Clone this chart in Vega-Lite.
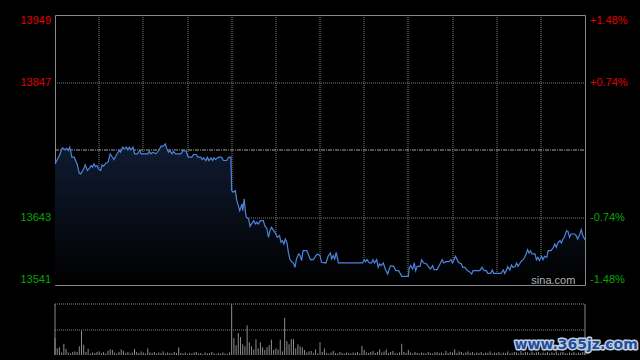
{
"$schema": "https://vega.github.io/schema/vega-lite/v6.json",
"background": "#000000",
"padding": {"left": 19, "top": 14, "right": 5, "bottom": 5},
"spacing": 16,
"config": {
 "axis": {"labelFont": "Liberation Sans", "labelFontSize": 11, "title": null, "translate": 0},
 "axisX": {"grid": true, "gridColor": "#808080", "gridDash": [1, 1], "labels": false, "ticks": false, "domain": false, "title": null}
},
"datasets": {
"price": [
{"t":0,"p":13724.0},{"t":6,"p":13736.6},{"t":10,"p":13748.2},{"t":14,"p":13745.2},{"t":16,"p":13747.7},{"t":18,"p":13744.2},{"t":20,"p":13749.3},{"t":23,"p":13734.1},{"t":26,"p":13734.1},{"t":30,"p":13724.0},{"t":33,"p":13709.9},{"t":35,"p":13708.9},{"t":39,"p":13716.5},{"t":41,"p":13722.5},{"t":44,"p":13714.0},{"t":47,"p":13717.5},{"t":49,"p":13721.5},{"t":51,"p":13719.0},{"t":53,"p":13724.0},{"t":55,"p":13720.0},{"t":57,"p":13721.5},{"t":59,"p":13716.5},{"t":62,"p":13714.0},{"t":64,"p":13722.5},{"t":66,"p":13720.5},{"t":69,"p":13725.0},{"t":72,"p":13726.6},{"t":75,"p":13739.2},{"t":78,"p":13734.1},{"t":80,"p":13730.6},{"t":83,"p":13736.6},{"t":87,"p":13744.2},{"t":89,"p":13741.7},{"t":92,"p":13749.3},{"t":94,"p":13746.7},{"t":97,"p":13749.3},{"t":99,"p":13745.2},{"t":101,"p":13749.3},{"t":103,"p":13745.2},{"t":106,"p":13749.3},{"t":108,"p":13739.2},{"t":112,"p":13739.2},{"t":115,"p":13744.2},{"t":117,"p":13739.2},{"t":126,"p":13739.2},{"t":128,"p":13743.2},{"t":130,"p":13739.2},{"t":133,"p":13741.7},{"t":137,"p":13739.2},{"t":141,"p":13744.2},{"t":144,"p":13750.8},{"t":147,"p":13750.8},{"t":150,"p":13754.3},{"t":152,"p":13746.7},{"t":154,"p":13741.7},{"t":156,"p":13744.2},{"t":159,"p":13739.2},{"t":161,"p":13742.7},{"t":164,"p":13739.2},{"t":171,"p":13739.2},{"t":174,"p":13744.2},{"t":178,"p":13743.2},{"t":181,"p":13734.1},{"t":186,"p":13734.1},{"t":188,"p":13738.2},{"t":192,"p":13738.2},{"t":194,"p":13734.1},{"t":198,"p":13734.1},{"t":200,"p":13730.6},{"t":202,"p":13733.1},{"t":205,"p":13729.1},{"t":207,"p":13734.1},{"t":209,"p":13729.1},{"t":212,"p":13733.1},{"t":214,"p":13729.1},{"t":216,"p":13733.1},{"t":218,"p":13730.6},{"t":221,"p":13733.1},{"t":223,"p":13734.1},{"t":226,"p":13734.1},{"t":229,"p":13729.1},{"t":233,"p":13729.1},{"t":236,"p":13734.1},{"t":239,"p":13734.1},{"t":240,"p":13683.7},{"t":242,"p":13681.2},{"t":245,"p":13683.7},{"t":247,"p":13668.6},{"t":249,"p":13661.0},{"t":251,"p":13653.4},{"t":254,"p":13663.5},{"t":255,"p":13653.4},{"t":257,"p":13671.1},{"t":259,"p":13648.4},{"t":260,"p":13643.4},{"t":263,"p":13640.8},{"t":265,"p":13629.7},{"t":267,"p":13633.3},{"t":270,"p":13638.3},{"t":272,"p":13633.3},{"t":274,"p":13635.8},{"t":276,"p":13633.3},{"t":279,"p":13638.3},{"t":283,"p":13638.3},{"t":285,"p":13630.7},{"t":288,"p":13625.7},{"t":290,"p":13613.1},{"t":292,"p":13623.2},{"t":294,"p":13628.2},{"t":298,"p":13621.7},{"t":300,"p":13618.1},{"t":302,"p":13613.1},{"t":305,"p":13615.6},{"t":307,"p":13605.5},{"t":309,"p":13608.0},{"t":311,"p":13603.0},{"t":313,"p":13610.6},{"t":315,"p":13605.5},{"t":317,"p":13590.4},{"t":319,"p":13580.3},{"t":322,"p":13575.3},{"t":324,"p":13574.3},{"t":326,"p":13567.7},{"t":328,"p":13580.3},{"t":331,"p":13587.9},{"t":333,"p":13585.4},{"t":335,"p":13577.8},{"t":337,"p":13592.9},{"t":342,"p":13592.9},{"t":344,"p":13587.9},{"t":347,"p":13579.3},{"t":351,"p":13579.3},{"t":353,"p":13582.8},{"t":356,"p":13587.9},{"t":360,"p":13585.4},{"t":362,"p":13575.3},{"t":368,"p":13574.3},{"t":371,"p":13584.4},{"t":374,"p":13589.4},{"t":376,"p":13580.3},{"t":378,"p":13585.4},{"t":380,"p":13580.3},{"t":382,"p":13590.4},{"t":385,"p":13574.3},{"t":418,"p":13574.3},{"t":420,"p":13579.3},{"t":422,"p":13576.3},{"t":424,"p":13579.3},{"t":427,"p":13574.3},{"t":430,"p":13574.3},{"t":432,"p":13579.3},{"t":434,"p":13574.3},{"t":437,"p":13579.3},{"t":439,"p":13567.7},{"t":441,"p":13572.8},{"t":443,"p":13570.3},{"t":446,"p":13574.3},{"t":449,"p":13564.2},{"t":452,"p":13557.6},{"t":454,"p":13565.2},{"t":456,"p":13570.3},{"t":460,"p":13569.2},{"t":463,"p":13562.7},{"t":467,"p":13562.7},{"t":471,"p":13554.1},{"t":480,"p":13554.1},{"t":481,"p":13565.2},{"t":483,"p":13570.3},{"t":486,"p":13565.2},{"t":488,"p":13574.3},{"t":490,"p":13562.7},{"t":492,"p":13569.2},{"t":496,"p":13569.2},{"t":498,"p":13579.3},{"t":501,"p":13574.3},{"t":505,"p":13572.8},{"t":508,"p":13567.7},{"t":510,"p":13565.2},{"t":513,"p":13570.3},{"t":515,"p":13564.2},{"t":519,"p":13564.2},{"t":523,"p":13572.8},{"t":526,"p":13579.3},{"t":528,"p":13574.3},{"t":531,"p":13576.3},{"t":535,"p":13576.3},{"t":538,"p":13579.3},{"t":540,"p":13574.3},{"t":542,"p":13579.3},{"t":544,"p":13584.4},{"t":548,"p":13575.3},{"t":552,"p":13572.8},{"t":554,"p":13567.7},{"t":557,"p":13567.7},{"t":560,"p":13562.7},{"t":563,"p":13561.2},{"t":566,"p":13557.6},{"t":568,"p":13562.7},{"t":577,"p":13562.7},{"t":580,"p":13567.7},{"t":583,"p":13562.7},{"t":586,"p":13562.7},{"t":588,"p":13558.6},{"t":592,"p":13558.6},{"t":594,"p":13563.7},{"t":596,"p":13558.6},{"t":606,"p":13558.6},{"t":609,"p":13563.7},{"t":611,"p":13558.6},{"t":613,"p":13562.7},{"t":615,"p":13568.7},{"t":618,"p":13563.7},{"t":620,"p":13571.2},{"t":622,"p":13567.7},{"t":625,"p":13568.7},{"t":627,"p":13574.3},{"t":629,"p":13569.2},{"t":631,"p":13572.8},{"t":634,"p":13577.8},{"t":636,"p":13579.3},{"t":638,"p":13582.8},{"t":640,"p":13587.9},{"t":642,"p":13594.4},{"t":644,"p":13589.4},{"t":646,"p":13592.9},{"t":648,"p":13587.9},{"t":652,"p":13587.9},{"t":654,"p":13579.3},{"t":656,"p":13582.8},{"t":658,"p":13577.8},{"t":661,"p":13584.4},{"t":663,"p":13579.3},{"t":665,"p":13584.4},{"t":668,"p":13582.8},{"t":670,"p":13592.9},{"t":674,"p":13592.9},{"t":677,"p":13598.0},{"t":679,"p":13603.0},{"t":681,"p":13598.0},{"t":683,"p":13604.5},{"t":686,"p":13608.1},{"t":688,"p":13604.5},{"t":690,"p":13610.6},{"t":692,"p":13613.1},{"t":695,"p":13623.2},{"t":697,"p":13621.7},{"t":699,"p":13613.1},{"t":701,"p":13618.1},{"t":706,"p":13618.1},{"t":708,"p":13615.6},{"t":710,"p":13610.6},{"t":713,"p":13618.1},{"t":715,"p":13624.7},{"t":717,"p":13615.6},{"t":720,"p":13609.6}
],
"vol": [
{"t":0,"v":33},{"t":3,"v":13},{"t":6,"v":15},{"t":9,"v":5},{"t":12,"v":22},{"t":15,"v":12},{"t":18,"v":5},{"t":21,"v":3},{"t":24,"v":6},{"t":27,"v":7},{"t":30,"v":6},{"t":33,"v":17},{"t":36,"v":47},{"t":39,"v":20},{"t":42,"v":6},{"t":45,"v":12},{"t":48,"v":3},{"t":51,"v":5},{"t":54,"v":4},{"t":57,"v":6},{"t":60,"v":7},{"t":63,"v":4},{"t":66,"v":6},{"t":69,"v":3},{"t":72,"v":8},{"t":75,"v":11},{"t":78,"v":10},{"t":81,"v":5},{"t":84,"v":3},{"t":87,"v":6},{"t":90,"v":11},{"t":93,"v":8},{"t":96,"v":4},{"t":99,"v":6},{"t":102,"v":3},{"t":105,"v":5},{"t":108,"v":12},{"t":111,"v":6},{"t":114,"v":4},{"t":117,"v":7},{"t":120,"v":5},{"t":123,"v":3},{"t":126,"v":13},{"t":129,"v":5},{"t":132,"v":4},{"t":135,"v":6},{"t":138,"v":3},{"t":141,"v":5},{"t":144,"v":4},{"t":147,"v":7},{"t":150,"v":3},{"t":153,"v":5},{"t":156,"v":4},{"t":159,"v":3},{"t":162,"v":6},{"t":165,"v":4},{"t":168,"v":15},{"t":171,"v":4},{"t":174,"v":3},{"t":177,"v":5},{"t":180,"v":2},{"t":183,"v":4},{"t":186,"v":3},{"t":189,"v":5},{"t":192,"v":6},{"t":195,"v":3},{"t":198,"v":4},{"t":201,"v":2},{"t":204,"v":5},{"t":207,"v":3},{"t":210,"v":4},{"t":213,"v":6},{"t":216,"v":3},{"t":219,"v":2},{"t":222,"v":4},{"t":225,"v":3},{"t":228,"v":5},{"t":231,"v":3},{"t":234,"v":2},{"t":237,"v":5},{"t":240,"v":100},{"t":243,"v":33},{"t":246,"v":19},{"t":249,"v":43},{"t":252,"v":35},{"t":255,"v":21},{"t":258,"v":17},{"t":261,"v":58},{"t":264,"v":25},{"t":267,"v":17},{"t":270,"v":11},{"t":273,"v":31},{"t":276,"v":13},{"t":279,"v":25},{"t":282,"v":15},{"t":285,"v":10},{"t":288,"v":15},{"t":291,"v":19},{"t":294,"v":30},{"t":297,"v":10},{"t":300,"v":13},{"t":303,"v":11},{"t":306,"v":30},{"t":309,"v":7},{"t":312,"v":73},{"t":315,"v":27},{"t":318,"v":21},{"t":321,"v":31},{"t":324,"v":31},{"t":327,"v":13},{"t":330,"v":21},{"t":333,"v":17},{"t":336,"v":15},{"t":339,"v":10},{"t":342,"v":5},{"t":345,"v":7},{"t":348,"v":8},{"t":351,"v":4},{"t":354,"v":11},{"t":357,"v":3},{"t":360,"v":25},{"t":363,"v":6},{"t":366,"v":13},{"t":369,"v":4},{"t":372,"v":3},{"t":375,"v":5},{"t":378,"v":8},{"t":381,"v":4},{"t":384,"v":3},{"t":387,"v":6},{"t":390,"v":4},{"t":393,"v":3},{"t":396,"v":5},{"t":399,"v":4},{"t":402,"v":3},{"t":405,"v":5},{"t":408,"v":4},{"t":411,"v":6},{"t":414,"v":3},{"t":417,"v":18},{"t":420,"v":10},{"t":423,"v":5},{"t":426,"v":4},{"t":429,"v":6},{"t":432,"v":8},{"t":435,"v":4},{"t":438,"v":6},{"t":441,"v":11},{"t":444,"v":5},{"t":447,"v":7},{"t":450,"v":11},{"t":453,"v":4},{"t":456,"v":6},{"t":459,"v":8},{"t":462,"v":4},{"t":465,"v":3},{"t":468,"v":5},{"t":471,"v":22},{"t":474,"v":6},{"t":477,"v":4},{"t":480,"v":10},{"t":483,"v":5},{"t":486,"v":3},{"t":489,"v":6},{"t":492,"v":4},{"t":495,"v":3},{"t":498,"v":5},{"t":501,"v":4},{"t":504,"v":3},{"t":507,"v":6},{"t":510,"v":4},{"t":513,"v":3},{"t":516,"v":5},{"t":519,"v":6},{"t":522,"v":4},{"t":525,"v":5},{"t":528,"v":3},{"t":531,"v":8},{"t":534,"v":4},{"t":537,"v":6},{"t":540,"v":5},{"t":543,"v":11},{"t":546,"v":4},{"t":549,"v":7},{"t":552,"v":6},{"t":555,"v":3},{"t":558,"v":5},{"t":561,"v":7},{"t":564,"v":4},{"t":567,"v":6},{"t":570,"v":3},{"t":573,"v":5},{"t":576,"v":4},{"t":579,"v":6},{"t":582,"v":3},{"t":585,"v":5},{"t":588,"v":4},{"t":591,"v":7},{"t":594,"v":3},{"t":597,"v":5},{"t":600,"v":4},{"t":603,"v":6},{"t":606,"v":3},{"t":609,"v":5},{"t":612,"v":4},{"t":615,"v":7},{"t":618,"v":3},{"t":621,"v":4},{"t":624,"v":6},{"t":627,"v":5},{"t":630,"v":3},{"t":633,"v":8},{"t":636,"v":4},{"t":639,"v":6},{"t":642,"v":5},{"t":645,"v":3},{"t":648,"v":7},{"t":651,"v":4},{"t":654,"v":5},{"t":657,"v":6},{"t":660,"v":3},{"t":663,"v":5},{"t":666,"v":4},{"t":669,"v":6},{"t":672,"v":3},{"t":675,"v":5},{"t":678,"v":4},{"t":681,"v":7},{"t":684,"v":3},{"t":687,"v":5},{"t":690,"v":6},{"t":693,"v":4},{"t":696,"v":3},{"t":699,"v":5},{"t":702,"v":4},{"t":705,"v":6},{"t":708,"v":3},{"t":711,"v":5},{"t":714,"v":4},{"t":717,"v":6},{"t":720,"v":3}
]
},
"vconcat": [
{
 "width": 530, "height": 270,
 "view": {"stroke": "#888888", "strokeWidth": 1},
 "data": {"name": "price"},
 "layer": [
  {
   "mark": {"type": "area", "color": {"gradient": "linear", "x1": 0, "y1": 0, "x2": 0, "y2": 1, "stops": [{"offset": 0, "color": "#101b31"}, {"offset": 1, "color": "#000000"}]}},
   "encoding": {
    "x": {"field": "t", "type": "quantitative", "scale": {"domain": [0, 720], "nice": false, "zero": false}, "axis": {"values": [60,120,180,240,300,360,420,480,540,600,660]}},
    "y": {"field": "p", "type": "quantitative", "scale": {"domain": [13541, 13949], "nice": false, "zero": false},
     "axis": {"orient": "left", "values": [13541, 13643, 13745, 13847, 13949], "format": "d", "ticks": false, "domain": false, "labelPadding": 4, "labelFlush": true,
      "labelExpr": "datum.value == 13745 ? '' : datum.label",
      "labelColor": {"condition": {"test": "datum.value > 13745", "value": "#e00000"}, "value": "#00a800"},
      "grid": true,
      "gridColor": {"condition": {"test": "datum.value == 13745", "value": "#a0a0a0"}, "value": "#808080"},
      "gridDash": {"condition": {"test": "datum.value == 13745", "value": [4, 1, 1, 1]}, "value": [1, 1]},
      "gridOpacity": {"condition": {"test": "datum.value == 13541 || datum.value == 13949", "value": 0}, "value": 1}}},
    "y2": {"datum": 13541}
   }
  },
  {
   "mark": {"type": "line", "color": "#4d84db", "strokeWidth": 1.2},
   "encoding": {
    "x": {"field": "t", "type": "quantitative", "scale": {"domain": [0, 720], "nice": false, "zero": false}, "axis": {"values": [60,120,180,240,300,360,420,480,540,600,660]}},
    "y": {"field": "p", "type": "quantitative", "scale": {"domain": [13541, 13949], "nice": false, "zero": false},
     "axis": {"orient": "right", "values": [13541, 13643, 13847, 13949], "ticks": false, "domain": false, "grid": false, "labelPadding": 5, "labelFlush": true,
      "labelExpr": "datum.value == 13949 ? '+1.48%' : datum.value == 13847 ? '+0.74%' : datum.value == 13643 ? '-0.74%' : '-1.48%'",
      "labelColor": {"condition": {"test": "datum.value > 13745", "value": "#e00000"}, "value": "#00a800"}}}
   }
  },
  {
   "data": {"values": [{"label": "sina.com"}]},
   "mark": {"type": "text", "color": "#b4b4b4", "fontSize": 11, "font": "Liberation Sans", "align": "center", "baseline": "alphabetic", "dy": -1},
   "encoding": {
    "x": {"datum": 677, "type": "quantitative"},
    "y": {"datum": 13541, "type": "quantitative", "axis": null},
    "text": {"field": "label"}
   }
  }
 ],
 "resolve": {"axis": {"y": "independent"}}
},
{
 "width": 530, "height": 51,
 "view": {"stroke": null},
 "layer": [
  {
   "data": {"name": "vol"},
   "mark": {"type": "rule", "color": "#8c8c8c", "strokeWidth": 1},
   "encoding": {
    "x": {"field": "t", "type": "quantitative", "scale": {"domain": [0, 720], "nice": false, "zero": false}, "axis": null},
    "y": {"field": "v", "type": "quantitative", "scale": {"domain": [0, 100], "nice": false},
     "axis": {"orient": "left", "values": [50, 100], "grid": true, "gridDash": [1, 1], "gridColor": "#8a8a8a", "labels": false, "ticks": false, "domain": true, "domainColor": "#8a8a8a"}},
    "y2": {"datum": 0}
   }
  },
  {
   "data": {"values": [{"label": "www.365jz.com"}]},
   "mark": {"type": "text", "font": "DejaVu Sans", "fontWeight": "bold", "fontSize": 14, "color": "#c6cfdf", "stroke": "#c6cfdf", "strokeWidth": 3, "strokeJoin": "round", "align": "center", "baseline": "middle"},
   "encoding": {
    "x": {"datum": 708, "type": "quantitative", "axis": null},
    "y": {"datum": 20, "type": "quantitative", "axis": {"orient": "right", "values": [], "grid": false, "labels": false, "ticks": false, "domain": true, "domainColor": "#8a8a8a"}},
    "text": {"field": "label"}
   }
  },
  {
   "data": {"values": [{"label": "www.365jz.com"}]},
   "mark": {"type": "text", "font": "DejaVu Sans", "fontWeight": "bold", "fontSize": 14, "color": "#1d4f9f", "align": "center", "baseline": "middle"},
   "encoding": {
    "x": {"datum": 708, "type": "quantitative", "axis": null},
    "y": {"datum": 20, "type": "quantitative", "axis": null},
    "text": {"field": "label"}
   }
  }
 ],
 "resolve": {"axis": {"y": "independent"}}
}
]
}
